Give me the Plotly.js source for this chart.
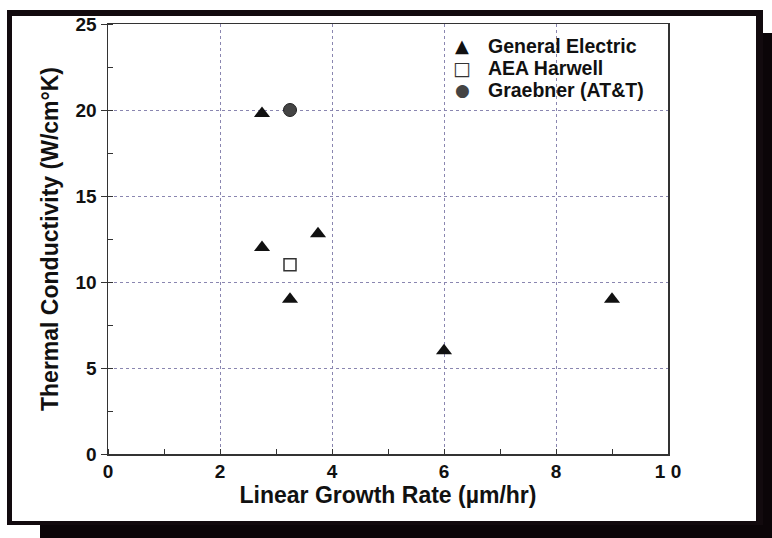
<!DOCTYPE html>
<html>
<head>
<meta charset="utf-8">
<script src="https://cdn.plot.ly/plotly-3.0.1.min.js"></script>
<style>html,body{margin:0;padding:0;background:#fff;}#chart{width:772px;height:538px;}</style>
</head>
<body>
<div id="chart"></div>
<script>
const seriesNames = ['General Electric', 'AEA Harwell', 'Graebner (AT&T)'];
const geX = [2.75, 2.75, 3.25, 3.75, 6, 9];
const geY = [19.8, 12, 9, 12.8, 6, 9];
const aeaX = [3.25];
const aeaY = [11];
const grX = [3.25];
const grY = [20];
const xTickVals = [0, 2, 4, 6, 8, 10];
const xTickText = ['0', '2', '4', '6', '8', '1 0'];
const yTickVals = [0, 5, 10, 15, 20, 25];

const FONT = 'Liberation Sans, Arial, Helvetica, sans-serif';

const traces = [
  {x: geX, y: geY, mode: 'markers', type: 'scatter', name: seriesNames[0],
   marker: {symbol: 'triangle-up', size: 14, color: '#111'}},
  {x: aeaX, y: aeaY, mode: 'markers', type: 'scatter', name: seriesNames[1],
   marker: {symbol: 'square-open', size: 12, color: '#333', line: {width: 1.5, color: '#333'}}},
  {x: grX, y: grY, mode: 'markers', type: 'scatter', name: seriesNames[2],
   marker: {symbol: 'circle', size: 13, color: '#444', line: {width: 1, color: '#222'}}}
];

function px2x(p){ return (p-108)/560; }
function py2y(p){ return (454-p)/430; }

// legend drawn as text (glyph + name) with tighter row spacing than Plotly's legend allows
const legendGlyphs = [
  {t: '▲', size: 18, color: '#111'},
  {t: '□', size: 19, color: '#333'},
  {t: '●', size: 17, color: '#444'}
];
const annotations = [];
seriesNames.forEach((name, i) => {
  const yy = py2y(46 + 22 * i);
  annotations.push({xref: 'paper', yref: 'paper', x: px2x(462), y: yy, xanchor: 'center', yanchor: 'middle',
    showarrow: false, text: legendGlyphs[i].t,
    font: {family: 'DejaVu Sans', size: legendGlyphs[i].size, color: legendGlyphs[i].color}});
  annotations.push({xref: 'paper', yref: 'paper', x: px2x(486), y: yy, xanchor: 'left', yanchor: 'middle',
    showarrow: false, text: name,
    font: {family: FONT, size: 19.5, color: '#111', weight: 'bold'}});
});

const layout = {
  width: 772, height: 538,
  margin: {l: 108, r: 104, t: 24, b: 84},
  paper_bgcolor: '#ffffff',
  plot_bgcolor: 'rgba(0,0,0,0)',
  font: {family: FONT, color: '#111', size: 19},
  showlegend: false,
  annotations: annotations,
  xaxis: {range: [0, 10], tickvals: xTickVals, ticktext: xTickText,
    showgrid: true, gridcolor: '#8a86b0', griddash: 'dot', gridwidth: 1,
    zeroline: false, showline: true, linecolor: '#333', linewidth: 1.5, mirror: true,
    ticks: '', tickfont: {family: FONT, size: 19, weight: 'bold', color: '#111'},
    minor: {dtick: 1, tick0: 0, ticks: 'inside', ticklen: 5, tickcolor: '#333', showgrid: false},
    title: {text: 'Linear Growth Rate (µm/hr)', standoff: 2,
      font: {family: FONT, size: 23, weight: 'bold', color: '#111'}}},
  yaxis: {range: [0, 25], tickvals: yTickVals,
    showgrid: true, gridcolor: '#8a86b0', griddash: 'dot', gridwidth: 1,
    zeroline: false, showline: true, linecolor: '#333', linewidth: 1.5, mirror: true,
    ticks: 'outside', ticklen: 6, tickcolor: '#333',
    tickfont: {family: FONT, size: 19, weight: 'bold', color: '#111'},
    minor: {dtick: 2.5, tick0: 0, ticks: 'inside', ticklen: 5, tickcolor: '#333', showgrid: false},
    title: {text: 'Thermal Conductivity (W/cm°K)', standoff: 10,
      font: {family: FONT, size: 23, weight: 'bold', color: '#111'}}},
  shapes: [
    {type: 'rect', xref: 'paper', yref: 'paper', layer: 'below',
     x0: px2x(40), x1: px2x(772), y0: py2y(538), y1: py2y(33),
     fillcolor: '#0b0508', line: {width: 0}},
    {type: 'rect', xref: 'paper', yref: 'paper', layer: 'below',
     x0: px2x(7), x1: px2x(763), y0: py2y(525), y1: py2y(10),
     fillcolor: '#120a0e', line: {width: 0}},
    {type: 'rect', xref: 'paper', yref: 'paper', layer: 'below',
     x0: px2x(12), x1: px2x(756), y0: py2y(521), y1: py2y(16),
     fillcolor: '#ffffff', line: {width: 0}}
  ]
};

Plotly.newPlot('chart', traces, layout, {displayModeBar: false, staticPlot: true});
</script>
</body>
</html>
